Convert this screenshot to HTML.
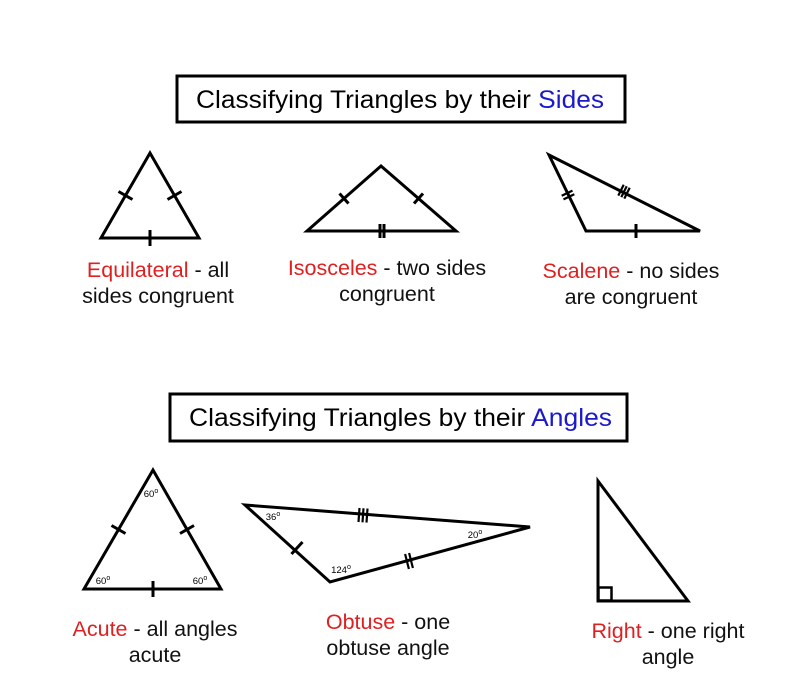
<!DOCTYPE html>
<html><head><style>body{margin:0;background:#fff}svg{display:block}text{font-family:"Liberation Sans",Arial,sans-serif}</style></head>
<body>
<svg width="800" height="700" viewBox="0 0 800 700" xmlns="http://www.w3.org/2000/svg">
<rect width="800" height="700" fill="#fff"/>
<g fill="none" stroke="#000" stroke-width="3">
<rect x="177" y="76" width="448" height="46"/>
<rect x="170" y="394" width="457" height="47"/>
</g>
<text x="196" y="108" font-size="25" textLength="408" lengthAdjust="spacingAndGlyphs">Classifying Triangles by their <tspan fill="#1a1acc">Sides</tspan></text>
<text x="189" y="426" font-size="25" textLength="423" lengthAdjust="spacingAndGlyphs">Classifying Triangles by their <tspan fill="#1a1acc">Angles</tspan></text>

<g fill="none" stroke="#000" stroke-width="3" stroke-linejoin="miter">
<polygon points="150,153 101,238 199,238"/>
<polygon points="381,166 307,231 456,231"/>
<polygon points="549,155 586,231 700,231"/>
<polygon points="153,470 84,589 221,589"/>
<polygon points="245,505 530,527 330,582"/>
<polygon points="598,481 598,601 688,601"/>
</g>
<g stroke="#000" stroke-width="3" fill="none">
<line x1="118.5" y1="191.5" x2="132.5" y2="199.5"/>
<line x1="167.5" y1="199.5" x2="181.5" y2="191.5"/>
<line x1="150" y1="230" x2="150" y2="246"/>
<line x1="339.5" y1="193.5" x2="348.5" y2="203.5"/>
<line x1="414" y1="203.5" x2="423" y2="193.5"/>
<line x1="380" y1="224" x2="380" y2="238"/>
<line x1="384" y1="224" x2="384" y2="238"/>
<line x1="636" y1="224" x2="636" y2="238"/>
<line x1="111.5" y1="525.5" x2="125.5" y2="533.5"/>
<line x1="180" y1="533.5" x2="194" y2="525.5"/>
<line x1="153" y1="581" x2="153" y2="597"/>
<line x1="291.5" y1="554" x2="302.5" y2="542"/>
<rect x="598.5" y="587.5" width="13" height="13" stroke-width="2.5"/>
</g>
<g stroke="#000" stroke-width="2.2" fill="none">
<line x1="561.7" y1="195.8" x2="572.5" y2="190.6"/>
<line x1="563.5" y1="199.4" x2="574.3" y2="194.2"/>
<line x1="618.3" y1="195.6" x2="623.7" y2="184.8"/>
<line x1="621.3" y1="197.1" x2="626.7" y2="186.3"/>
<line x1="624.3" y1="198.6" x2="629.7" y2="187.8"/>
<line x1="359.5" y1="508" x2="358.5" y2="522"/>
<line x1="363.5" y1="508.3" x2="362.5" y2="522.3"/>
<line x1="367.5" y1="508.6" x2="366.5" y2="522.6"/>
<line x1="405.1" y1="554" x2="408.9" y2="569"/>
<line x1="409.1" y1="553" x2="412.9" y2="568"/>
</g>
<g font-size="9.5" fill="#000" text-anchor="middle">
<text x="151" y="497">60<tspan font-size="7" dy="-4">o</tspan></text>
<text x="103" y="584">60<tspan font-size="7" dy="-4">o</tspan></text>
<text x="200" y="584">60<tspan font-size="7" dy="-4">o</tspan></text>
<text x="273" y="520">36<tspan font-size="7" dy="-4">o</tspan></text>
<text x="341" y="573">124<tspan font-size="7" dy="-4">o</tspan></text>
<text x="475" y="538">20<tspan font-size="7" dy="-4">o</tspan></text>
</g>
<g font-size="21.5" fill="#111" text-anchor="middle">
<text x="158" y="277"><tspan fill="#e02020">Equilateral</tspan> - all</text>
<text x="158" y="303">sides congruent</text>
<text x="387" y="275"><tspan fill="#e02020">Isosceles</tspan> - two sides</text>
<text x="387" y="301">congruent</text>
<text x="631" y="278"><tspan fill="#e02020">Scalene</tspan> - no sides</text>
<text x="631" y="304">are congruent</text>
<text x="155" y="636"><tspan fill="#e02020">Acute</tspan> - all angles</text>
<text x="155" y="662">acute</text>
<text x="388" y="629"><tspan fill="#e02020">Obtuse</tspan> - one</text>
<text x="388" y="655">obtuse angle</text>
<text x="668" y="638"><tspan fill="#e02020">Right</tspan> - one right</text>
<text x="668" y="664">angle</text>
</g>
</svg>
</body></html>
